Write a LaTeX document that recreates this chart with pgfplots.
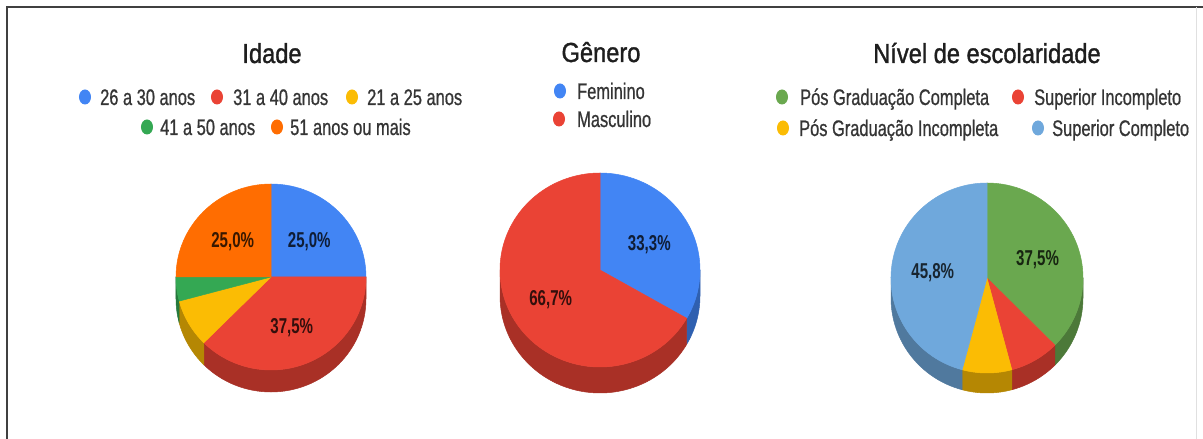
\documentclass[border=0pt]{standalone}
\usepackage{pgfplots}
\pgfplotsset{compat=1.18}
\usepackage{pgfplotstable}
\usepackage{fontspec}
\setmainfont{Liberation Sans}
\newfontfamily\legfont{Liberation Sans}[FakeStretch=0.73,FakeBold=0.7]
\newfontfamily\titfont{Liberation Sans}[FakeStretch=0.86,FakeBold=1.2]
\newfontfamily\pctfont{Liberation Sans Bold}[FakeStretch=0.70]
\newcommand\legstyle{\legfont\fontsize{22.5pt}{26pt}\selectfont}
\newcommand\titstyle{\titfont\fontsize{27.5pt}{30pt}\selectfont}
\newcommand\pctstyle{\pctfont\fontsize{21.5pt}{24pt}\selectfont}

\definecolor{gBlue}{HTML}{4285F4}
\definecolor{gRed}{HTML}{EA4335}
\definecolor{gYellow}{HTML}{FBBC04}
\definecolor{gGreen}{HTML}{34A853}
\definecolor{gOrange}{HTML}{FF6D01}
\definecolor{eGreen}{HTML}{6AA84F}
\definecolor{eBlue}{HTML}{6FA8DC}
\definecolor{legtext}{HTML}{353535}
\definecolor{tittext}{HTML}{1E1E1E}

\pgfplotstableread[col sep=comma]{
value,color
25.0,gBlue
37.5,gRed
8.33,gYellow
4.17,gGreen
25.0,gOrange
}\idadeTab

\pgfplotstableread[col sep=comma]{
value,color
33.3,gBlue
66.7,gRed
}\generoTab

\pgfplotstableread[col sep=comma]{
value,color
37.5,eGreen
8.33,gRed
8.33,gYellow
45.83,eBlue
}\escolaTab

% #1 table, #2 x radius, #3 y radius, #4 depth
\newcommand\buildpie[4]{%
  \pgfplotstablegetrowsof{#1}%
  \pgfmathtruncatemacro\pielast{\pgfplotsretval-1}%
  \gdef\pietotal{0}%
  \foreach \i in {0,...,\pielast}{%
    \pgfplotstablegetelem{\i}{value}\of{#1}%
    \pgfmathsetmacro\tmp{\pietotal+\pgfplotsretval}%
    \xdef\pietotal{\tmp}%
  }%
  \gdef\piecum{0}\gdef\pietop{}\gdef\pieside{}\gdef\pielabels{}%
  \foreach \i in {0,...,\pielast}{%
    \pgfplotstablegetelem{\i}{value}\of{#1}\let\slval\pgfplotsretval
    \pgfplotstablegetelem{\i}{color}\of{#1}\let\slcol\pgfplotsretval
    \pgfmathsetmacro\sla{90-(\piecum/\pietotal)*360}%
    \pgfmathsetmacro\tmp{\piecum+\slval}\xdef\piecum{\tmp}%
    \pgfmathsetmacro\slb{90-(\piecum/\pietotal)*360}%
    \xdef\pietop{\unexpanded\expandafter{\pietop}%
      \noexpand\fill[\slcol,draw=\slcol,line width=0.5pt,line join=round] (axis cs:0,0) -- ++(\sla:#2pt and #3pt) arc[start angle=\sla,end angle=\slb,x radius=#2pt,y radius=#3pt] -- cycle;}%
    \pgfmathsetmacro\slhi{min(\sla,0)}%
    \pgfmathsetmacro\sllo{max(\slb,-180)}%
    \pgfmathtruncatemacro\flag{\slhi>\sllo+0.01 ? 1 : 0}%
    \ifnum\flag=1
      \xdef\pieside{\unexpanded\expandafter{\pieside}%
        \noexpand\fill[\slcol!72!black,draw=\slcol!72!black,line width=0.5pt,line join=round] (axis cs:0,0) ++(\slhi:#2pt and #3pt) arc[start angle=\slhi,end angle=\sllo,x radius=#2pt,y radius=#3pt] -- ++(0pt,-#4pt) arc[start angle=\sllo,end angle=\slhi,x radius=#2pt,y radius=#3pt] -- cycle;}%
    \fi
    \pgfmathtruncatemacro\flag{\slval/\pietotal>0.1 ? 1 : 0}%
    \ifnum\flag=1
      \pgfmathsetmacro\slm{(\sla+\slb)/2}%
      \pgfmathsetmacro\lx{0.57*#2*cos(\slm)}%
      \pgfmathsetmacro\ly{0.57*#3*sin(\slm)-8}%
      \xdef\pielabels{\unexpanded\expandafter{\pielabels}%
        \noexpand\node[anchor=base,inner sep=0pt,text=\slcol!22!black,font=\noexpand\pctstyle] at (axis cs:\lx,\ly) {\noexpand\pgfmathprintnumber[fixed,fixed zerofill,precision=1,use comma,assume math mode=true]{\slval}\noexpand\%};}%
    \fi
  }%
}

\pgfplotsset{pieaxis/.style={anchor=origin, x=1pt, y=1pt, xmin=-230, xmax=230, ymin=-140, ymax=250, hide axis, clip=false, disabledatascaling}}

\begin{document}
\begin{tikzpicture}
\useasboundingbox (0,0) rectangle (1203pt,439pt);
\fill[white] (0,0) rectangle (1203pt,439pt);
\draw[line width=1.6pt, color=black!75] (7pt,-2pt) -- (7pt,432pt) -- (1203pt,432pt);
\draw[line width=0.8pt, color=black!12] (1196pt,432pt) -- (1196pt,-2pt);

% ---------- Idade ----------
\buildpie{\idadeTab}{95}{93}{22}
\begin{axis}[pieaxis, at={(271pt,162pt)}]
\pieside
\pietop
\pielabels
\node[anchor=base, inner sep=0pt, font=\titstyle, text=tittext] at (axis cs:1,214) {Idade};
\fill[gBlue]   (axis cs:-186,180) ellipse[x radius=6pt, y radius=7.5pt];
\node[anchor=base west, inner sep=0pt, font=\legstyle, text=legtext] at (axis cs:-171,172) {26 a 30 anos};
\fill[gRed]    (axis cs:-54,180) ellipse[x radius=6pt, y radius=7.5pt];
\node[anchor=base west, inner sep=0pt, font=\legstyle, text=legtext] at (axis cs:-38,172) {31 a 40 anos};
\fill[gYellow] (axis cs:81,180) ellipse[x radius=6pt, y radius=7.5pt];
\node[anchor=base west, inner sep=0pt, font=\legstyle, text=legtext] at (axis cs:96,172) {21 a 25 anos};
\fill[gGreen]  (axis cs:-124,150) ellipse[x radius=6pt, y radius=7.5pt];
\node[anchor=base west, inner sep=0pt, font=\legstyle, text=legtext] at (axis cs:-111,142) {41 a 50 anos};
\fill[gOrange] (axis cs:6,150) ellipse[x radius=6pt, y radius=7.5pt];
\node[anchor=base west, inner sep=0pt, font=\legstyle, text=legtext] at (axis cs:19,142) {51 anos ou mais};
\end{axis}

% ---------- Genero ----------
\buildpie{\generoTab}{100}{97}{26}
\begin{axis}[pieaxis, at={(600pt,169pt)}]
\pieside
\pietop
\pielabels
\node[anchor=base, inner sep=0pt, font=\titstyle, text=tittext] at (axis cs:1,208) {Gênero};
\fill[gBlue] (axis cs:-40,179) ellipse[x radius=6pt, y radius=7.5pt];
\node[anchor=base west, inner sep=0pt, font=\legstyle, text=legtext] at (axis cs:-23,171) {Feminino};
\fill[gRed]  (axis cs:-41,151) ellipse[x radius=6pt, y radius=7.5pt];
\node[anchor=base west, inner sep=0pt, font=\legstyle, text=legtext] at (axis cs:-23,143) {Masculino};
\end{axis}

% ---------- Escolaridade ----------
\buildpie{\escolaTab}{96}{95}{20}
\begin{axis}[pieaxis, at={(987pt,161pt)}]
\pieside
\pietop
\pielabels
\node[anchor=base, inner sep=0pt, font=\titstyle, text=tittext] at (axis cs:0,215) {Nível de escolaridade};
\fill[eGreen]  (axis cs:-205,181) ellipse[x radius=6pt, y radius=7.5pt];
\node[anchor=base west, inner sep=0pt, font=\legstyle, text=legtext] at (axis cs:-187,173) {Pós Graduação Completa};
\fill[gRed]    (axis cs:31,181) ellipse[x radius=6pt, y radius=7.5pt];
\node[anchor=base west, inner sep=0pt, font=\legstyle, text=legtext] at (axis cs:47,173) {Superior Incompleto};
\fill[gYellow] (axis cs:-204,150) ellipse[x radius=6pt, y radius=7.5pt];
\node[anchor=base west, inner sep=0pt, font=\legstyle, text=legtext] at (axis cs:-188,142) {Pós Graduação Incompleta};
\fill[eBlue]   (axis cs:51,150) ellipse[x radius=6pt, y radius=7.5pt];
\node[anchor=base west, inner sep=0pt, font=\legstyle, text=legtext] at (axis cs:65,142) {Superior Completo};
\end{axis}
\end{tikzpicture}
\end{document}
